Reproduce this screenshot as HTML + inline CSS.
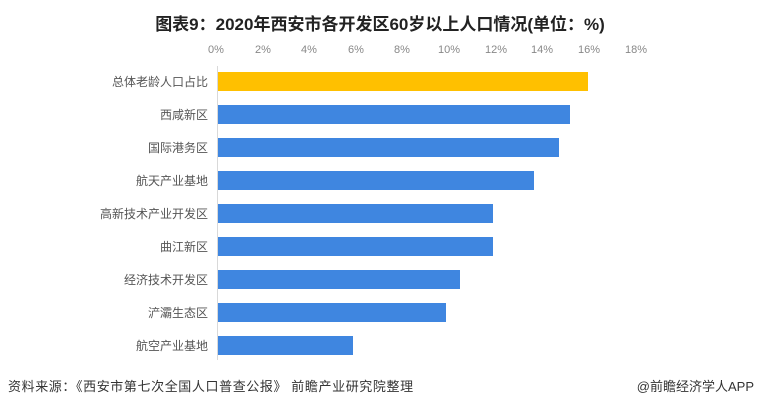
<!DOCTYPE html>
<html><head><meta charset="utf-8"><style>
body{margin:0;background:#fff;}
.w{position:relative;width:760px;height:407px;overflow:hidden;font-family:"Liberation Sans","Noto Sans CJK SC",sans-serif;}
.t{position:absolute;top:10px;left:0;width:760px;text-align:center;font-size:17px;font-weight:bold;color:#222;}
.tk{position:absolute;top:44px;font-size:11px;color:#888;width:40px;margin-left:-20px;text-align:center;}
.lb{position:absolute;left:60px;width:148px;text-align:right;font-size:12px;color:#555;}
.b{position:absolute;left:218px;height:19px;background:#3f86e0;}
.ax{position:absolute;left:217px;top:66px;width:1px;height:294px;background:#d9d9d9;}
.f{position:absolute;top:376px;font-size:13px;color:#333;letter-spacing:0.6px;}
</style></head><body><div class="w">
<div class="t">图表9：2020年西安市各开发区60岁以上人口情况(单位：%)</div>
<div class="tk" style="left:216px">0%</div><div class="tk" style="left:263px">2%</div><div class="tk" style="left:309px">4%</div><div class="tk" style="left:356px">6%</div><div class="tk" style="left:402px">8%</div><div class="tk" style="left:449px">10%</div><div class="tk" style="left:496px">12%</div><div class="tk" style="left:542px">14%</div><div class="tk" style="left:589px">16%</div><div class="tk" style="left:636px">18%</div>
<div class="ax"></div>
<div class="lb" style="top:73px">总体老龄人口占比</div><div class="b" style="top:72px;width:370px;background:#ffc000"></div>
<div class="lb" style="top:106px">西咸新区</div><div class="b" style="top:105px;width:352px"></div>
<div class="lb" style="top:139px">国际港务区</div><div class="b" style="top:138px;width:341px"></div>
<div class="lb" style="top:172px">航天产业基地</div><div class="b" style="top:171px;width:316px"></div>
<div class="lb" style="top:205px">高新技术产业开发区</div><div class="b" style="top:204px;width:275px"></div>
<div class="lb" style="top:238px">曲江新区</div><div class="b" style="top:237px;width:275px"></div>
<div class="lb" style="top:271px">经济技术开发区</div><div class="b" style="top:270px;width:242px"></div>
<div class="lb" style="top:304px">浐灞生态区</div><div class="b" style="top:303px;width:228px"></div>
<div class="lb" style="top:337px">航空产业基地</div><div class="b" style="top:336px;width:135px"></div>
<div class="f" style="left:8px">资料来源：《西安市第七次全国人口普查公报》 前瞻产业研究院整理</div>
<div class="f" style="right:6px;letter-spacing:0">@前瞻经济学人APP</div>
</div></body></html>
